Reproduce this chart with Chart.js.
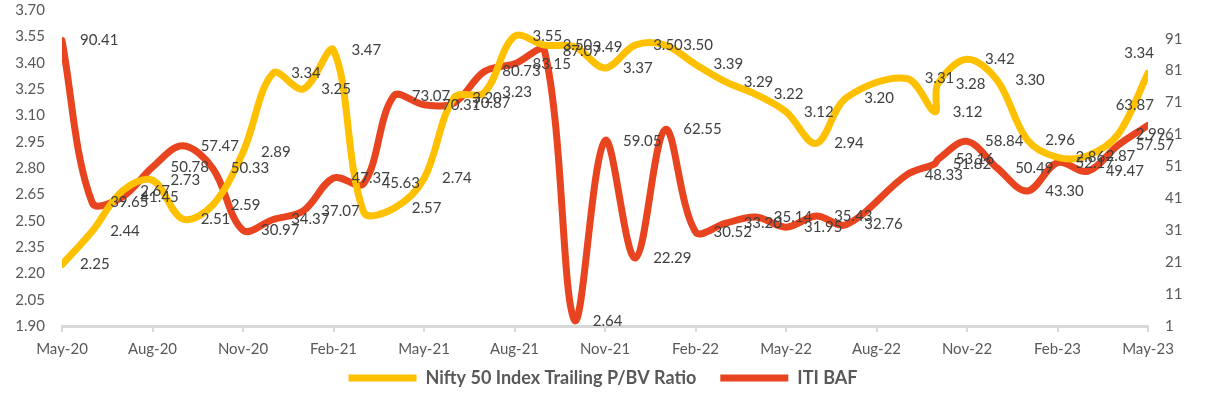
<!DOCTYPE html>
<html>
<head>
<meta charset="utf-8">
<script src="https://cdn.jsdelivr.net/npm/chart.js@4/dist/chart.umd.min.js"></script>
<style>
  html, body { margin: 0; padding: 0; background: #fff; }
  #wrap { width: 1206px; height: 393px; }
</style>
</head>
<body>
<div id="wrap"><canvas id="lineChart"></canvas></div>
<script>
// month-end data, Oct-22 has two readings
const dates = [
  "2020-05", "2020-06", "2020-07", "2020-08", "2020-09", "2020-10", "2020-11", "2020-12",
  "2021-01", "2021-02", "2021-03", "2021-04", "2021-05", "2021-06", "2021-07", "2021-08",
  "2021-09", "2021-10", "2021-11", "2021-12", "2022-01", "2022-02", "2022-03", "2022-04",
  "2022-05", "2022-06", "2022-07", "2022-09", "2022-09-29", "2022-10-02", "2022-11", "2022-12",
  "2023-01", "2023-02", "2023-03", "2023-04", "2023-05",
];

const pbvRatio = [
  2.25, 2.44, 2.67, 2.73, 2.51, 2.59, 2.89, 3.34,
  3.25, 3.47, 2.55, 2.57, 2.74, 3.20, 3.23, 3.55,
  3.50, 3.49, 3.37, 3.50, 3.50, 3.39, 3.29, 3.22,
  3.12, 2.94, 3.20, 3.31, 3.12, 3.28, 3.42, 3.30,
  2.96, 2.86, 2.87, 2.99, 3.34,
];

const itiBaf = [
  90.41, 39.65, 41.45, 50.78, 57.47, 50.33, 30.97, 34.37,
  37.07, 47.37, 45.63, 73.07, 70.31, 70.87, 80.73, 83.15,
  87.07, 2.64, 59.05, 22.29, 62.55, 30.52, 33.2, 35.14,
  31.95, 35.43, 32.76, 48.33, 51.82, 53.16, 58.84, 50.49,
  43.3, 52.17, 49.47, 57.57, 63.87,
];

// the Mar-21 ratio label is not shown on the original
const pbvNoLabel = [10];

const xTickLabels = [
  "May-20", "Aug-20", "Nov-20", "Feb-21", "May-21", "Aug-21", "Nov-21",
  "Feb-22", "May-22", "Aug-22", "Nov-22", "Feb-23", "May-23",
];
const leftTicks = [1.9, 2.05, 2.2, 2.35, 2.5, 2.65, 2.8, 2.95, 3.1, 3.25, 3.4, 3.55, 3.7];
const rightTicks = [1, 11, 21, 31, 41, 51, 61, 71, 81, 91];

// months since May-20
function monthOffset(s) {
  const p = s.split("-").map(Number);
  const day = p[2] || 1;
  return (p[0] - 2020) * 12 + (p[1] - 5) + (day - 1) / 30;
}
const xs = dates.map(monthOffset);

const YELLOW = "#FFC000";
const RED = "#E8441F";
const FONT = "Lato, 'Open Sans', sans-serif";

// draws the value next to every point (last one goes above)
const valueLabels = {
  id: "valueLabels",
  afterDatasetsDraw(chart) {
    const ctx = chart.ctx;
    ctx.save();
    ctx.font = "15px " + FONT;
    ctx.fillStyle = "#404040";
    ctx.textBaseline = "middle";
    chart.data.datasets.forEach((ds, i) => {
      const meta = chart.getDatasetMeta(i);
      const last = meta.data.length - 1;
      meta.data.forEach((pt, j) => {
        if (ds.noLabel && ds.noLabel.includes(j)) return;
        const txt = ds.data[j].y.toFixed(2);
        if (j === last) {
          ctx.textAlign = "right";
          ctx.fillText(txt, pt.x + 6, pt.y - 20);
        } else {
          ctx.textAlign = "left";
          ctx.fillText(txt, pt.x + 18, pt.y);
        }
      });
    });
    ctx.restore();
  },
};

var lineCtx = document.getElementById("lineChart").getContext("2d");

var lineChart = new Chart(lineCtx, {
  type: "line",
  data: {
    datasets: [
      {
        label: "Nifty 50 Index Trailing P/BV Ratio",
        data: xs.map((x, i) => ({ x: x, y: pbvRatio[i] })),
        borderColor: YELLOW,
        backgroundColor: YELLOW,
        borderWidth: 7,
        borderCapStyle: "round",
        borderJoinStyle: "round",
        pointRadius: 0,
        tension: 0.35,
        yAxisID: "y",
        noLabel: pbvNoLabel,
      },
      {
        label: "ITI BAF",
        data: xs.map((x, i) => ({ x: x, y: itiBaf[i] })),
        borderColor: RED,
        backgroundColor: RED,
        borderWidth: 7,
        borderCapStyle: "round",
        borderJoinStyle: "round",
        pointRadius: 0,
        tension: 0.35,
        yAxisID: "y1",
      },
    ],
  },
  options: {
    responsive: true,
    maintainAspectRatio: false,
    animation: false,
    layout: { autoPadding: false, padding: { top: 0, bottom: -4, left: 0, right: 0 } },
    scales: {
      x: {
        type: "linear",
        min: 0,
        max: 36,
        afterBuildTicks: (scale) => {
          scale.ticks = xTickLabels.map((_, i) => ({ value: i * 3 }));
        },
        ticks: {
          color: "#595959",
          font: { family: FONT, size: 15, lineHeight: 1 },
          padding: 10,
          maxRotation: 0,
          callback: (value) => xTickLabels[Math.round(value / 3)],
        },
        grid: {
          drawOnChartArea: false,
          drawTicks: true,
          tickLength: 6,
          color: "#D9D9D9",
          lineWidth: 2,
        },
        border: { color: "#D9D9D9", width: 3 },
      },
      y: {
        position: "left",
        min: 1.9,
        max: 3.7,
        afterBuildTicks: (scale) => {
          scale.ticks = leftTicks.map((v) => ({ value: v }));
        },
        afterFit: (scale) => {
          scale.width = 62;
        },
        ticks: {
          color: "#595959",
          font: { family: FONT, size: 15 },
          padding: 1,
          callback: (value) => value.toFixed(2),
        },
        grid: { display: false, tickLength: 16 },
        border: { display: false },
      },
      y1: {
        position: "right",
        min: 1,
        max: 100,
        afterBuildTicks: (scale) => {
          scale.ticks = rightTicks.map((v) => ({ value: v }));
        },
        afterFit: (scale) => {
          scale.width = 58;
        },
        ticks: {
          color: "#595959",
          font: { family: FONT, size: 15 },
          padding: 1,
        },
        grid: { display: false, tickLength: 16 },
        border: { display: false },
      },
    },
    plugins: {
      legend: {
        position: "bottom",
        labels: {
          usePointStyle: true,
          pointStyle: "line",
          pointStyleWidth: 68,
          color: "#595959",
          font: { family: FONT, size: 18, weight: "bold", lineHeight: 0.78 },
          padding: 2,
          // extra room between the two entries
          generateLabels: (chart) =>
            Chart.defaults.plugins.legend.labels.generateLabels(chart).map((item, i) => {
              if (i === 0) item.text += "     ";
              return item;
            }),
        },
      },
      tooltip: { enabled: false },
    },
  },
  plugins: [valueLabels],
});
</script>
</body>
</html>
